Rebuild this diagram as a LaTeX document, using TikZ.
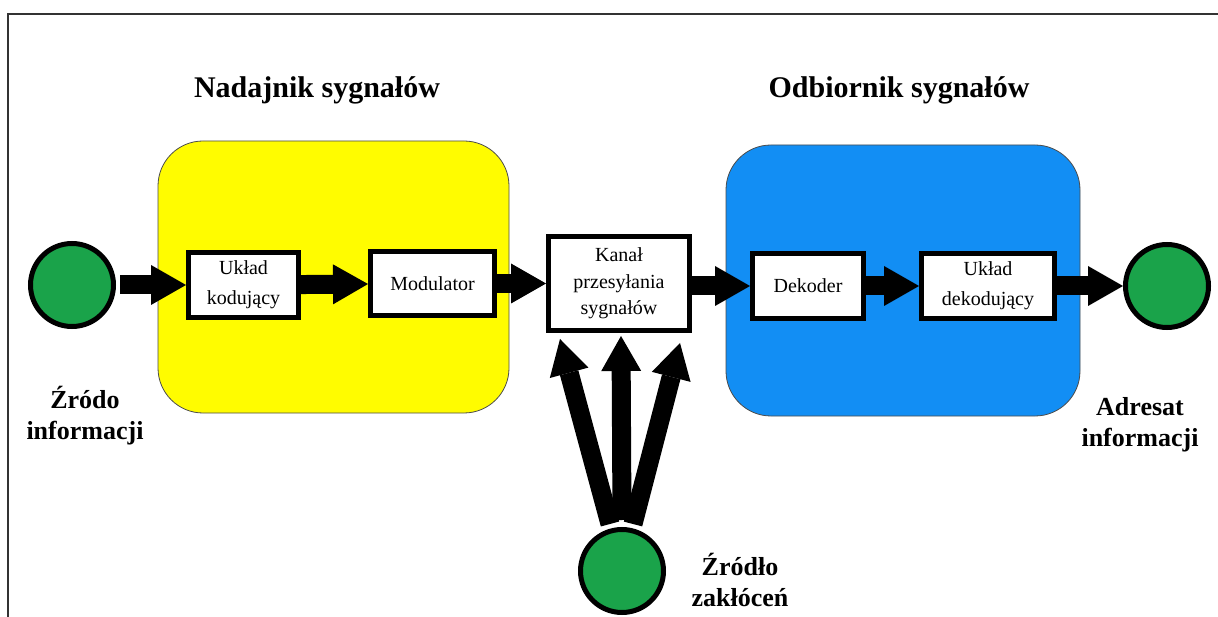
\documentclass[tikz,border=0pt]{standalone}
\usepackage{fontspec}
\setmainfont{Liberation Serif}
\usetikzlibrary{arrows.meta}
\definecolor{ylw}{RGB}{255,252,0}
\definecolor{blu}{RGB}{18,142,244}
\definecolor{grn}{RGB}{26,163,74}
\begin{document}
\begin{tikzpicture}[x=1pt,y=-1pt,
  stage/.style={draw=black!70, line width=0.8pt, rounded corners=45pt},
  blockbox/.style={draw=black, line width=5pt, fill=white, inner sep=0pt, align=center, font=\fontsize{20}{30}\selectfont},
  endpt/.style={circle, draw=black, line width=5pt, fill=grn, minimum size=83pt, inner sep=0pt},
  blk/.style={line width=19pt, -{Triangle[length=35pt,width=40pt,line width=0pt]}},
  titletext/.style={font=\bfseries\fontsize{30}{36}\selectfont, inner sep=0pt},
  lbl/.style={font=\bfseries\fontsize{26}{31}\selectfont, align=center, inner sep=0pt}]
\useasboundingbox (0,0) rectangle (1218,617);
\fill[white] (0,0) rectangle (1218,617);
% frame
\draw[black!80, line width=1.5pt] (8,617) -- (8,14) -- (1218,14);
% stages
\draw[stage, fill=ylw] (158,141) rectangle (509,413);
\draw[stage, fill=blu] (726,145) rectangle (1080,416);
% titles
\node[titletext] (tn) at (317,90) {Nadajnik sygnałów};
\node[titletext] (to) at (899,90) {Odbiornik sygnałów};
% blocks
\node[blockbox, minimum width=110pt, minimum height=65pt] (kod) at (243.5,285) {Układ\\kodujący};
\node[blockbox, minimum width=124pt, minimum height=64pt] (mod) at (432.5,283.5) {Modulator};
\node[blockbox, minimum width=141pt, minimum height=94pt, font=\fontsize{20}{26.5}\selectfont] (kan) at (619,283.5) {Kanał\\przesyłania\\sygnałów};
\node[blockbox, minimum width=111pt, minimum height=65pt] (dek) at (808,286) {Dekoder};
\node[blockbox, minimum width=133pt, minimum height=65pt] (udk) at (988,286) {Układ\\dekodujący};
% end points
\node[endpt] (src) at (72,285) {};
\node[endpt] (dst) at (1167,286) {};
\node[endpt] (noise) at (622,571) {};
% labels
\node[lbl] (lsrc) at (85,416) {Źródo\\informacji};
\node[lbl] (ldst) at (1140,425) {Adresat\\informacji};
\node[lbl] (lnoise) at (740,580) {Źródło\\zakłóceń};
% arrows
\draw[blk, shorten <=4pt] (src) -- (kod);
\draw[blk] (kod) -- (mod);
\draw[blk] (mod.east) -- (kan.west |- mod.east);
\draw[blk] (kan.east |- dek.west) -- (dek.west);
\draw[blk] (dek) -- (udk);
\draw[blk] (udk) -- (dst);
\draw[blk] ([xshift=-12pt,yshift=3pt]noise.north) -- ([xshift=-59pt,yshift=-6pt]kan.south);
\draw[blk] ([yshift=7pt]noise.north) -- ([xshift=2pt,yshift=-3pt]kan.south);
\draw[blk] ([xshift=11pt,yshift=3pt]noise.north) -- ([xshift=61pt,yshift=-10pt]kan.south);
\end{tikzpicture}
\end{document}
